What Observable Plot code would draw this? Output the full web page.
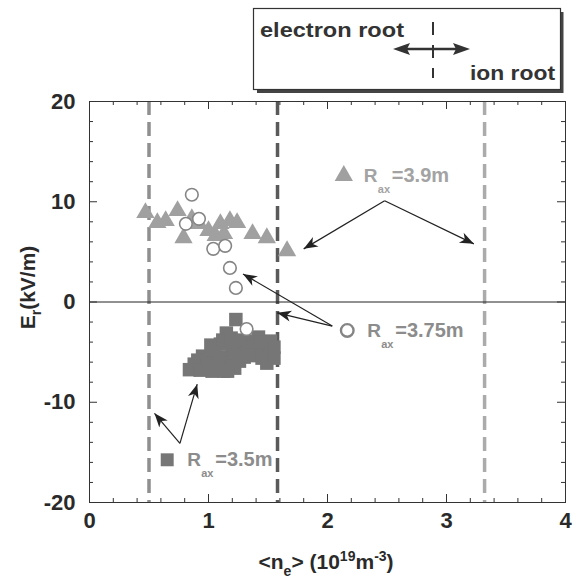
<!DOCTYPE html>
<html>
<head>
<meta charset="utf-8">
<script src="https://cdn.jsdelivr.net/npm/d3@7"></script>
<script src="https://cdn.jsdelivr.net/npm/@observablehq/plot@0.6"></script>
<style>
  body { margin: 0; background: #fff; }
  #wrap { position: relative; width: 576px; height: 580px; font-family: "Liberation Sans", Arial, sans-serif; }
  #chart { position: absolute; left: 0; top: 0; }
  #box { position: absolute; left: 0; top: 0; }
</style>
</head>
<body>
<div id="wrap">
  <div id="chart"></div>
  <svg id="box" width="576" height="100" font-family="'Liberation Sans', Arial, sans-serif" font-weight="bold">
    <path d="M257,91.5 H562 V12" fill="none" stroke="#444" stroke-width="3"/>
    <rect x="253.5" y="8.5" width="307" height="81" fill="#fff" stroke="#333" stroke-width="1.2"/>
    <text x="260" y="37" font-size="20" fill="#333" textLength="144" lengthAdjust="spacingAndGlyphs">electron root</text>
    <text x="470" y="80" font-size="20" fill="#333" textLength="85" lengthAdjust="spacingAndGlyphs">ion root</text>
    <line x1="405" y1="49" x2="458" y2="49" stroke="#333" stroke-width="2.5"/>
    <path d="M393,49 L410,43 L407,49 L410,55 Z" fill="#333"/>
    <path d="M470,49 L453,43 L456,49 L453,55 Z" fill="#333"/>
    <line x1="433" y1="22" x2="433" y2="78" stroke="#333" stroke-width="2" stroke-dasharray="13,10"/>
  </svg>
</div>
<script>
// ---- data ----
const xTicks = [0, 1, 2, 3, 4];
const yTicks = [-20, -10, 0, 10, 20];
const xMinor = [0.2, 0.4, 0.6, 0.8, 1.2, 1.4, 1.6, 1.8, 2.2, 2.4, 2.6, 2.8, 3.2, 3.4, 3.6, 3.8];
const yMinor = [-18, -16, -14, -12, -8, -6, -4, -2, 2, 4, 6, 8, 12, 14, 16, 18];

// R_ax = 3.9 m (triangles)
const triX = [0.47, 0.57, 0.64, 0.74, 0.79, 0.86, 0.92, 1.00, 1.06, 1.10, 1.13, 1.18, 1.24, 1.37, 1.49, 1.66];
const triY = [8.9, 7.9, 8.1, 9.1, 6.4, 8.3, 7.8, 7.1, 6.6, 7.8, 6.8, 8.1, 7.9, 6.8, 6.4, 5.1];

// R_ax = 3.75 m (open circles)
const circX = [0.86, 0.81, 0.92, 1.04, 1.14, 1.18, 1.23, 1.32];
const circY = [10.7, 7.8, 8.3, 5.3, 5.6, 3.4, 1.4, -2.7];

// R_ax = 3.5 m (squares)
const sqX = [1.23, 1.15, 1.42, 1.52, 1.33, 1.02, 1.10, 1.20, 1.28, 1.38, 1.47,
             0.95, 1.05, 1.14, 1.22, 1.30, 1.40, 1.52, 0.91, 0.84, 0.97, 1.08, 1.17, 1.22, 1.49, 1.55,
             0.88, 0.93, 1.00, 1.04, 1.09, 1.12, 1.16, 1.19, 1.26, 1.26, 1.34, 1.35, 1.44, 1.45, 1.55, 1.03, 1.13];
const sqY = [-1.75, -3.1, -3.5, -3.9, -3.9, -4.3, -4.2, -4.4, -4.6, -4.4, -4.8,
             -5.4, -5.2, -5.5, -5.3, -5.5, -5.3, -5.2, -5.8, -6.75, -6.6, -6.7, -6.4, -6.6, -6.1, -5.6,
             -6.2, -6.8, -6.0, -4.8, -5.9, -3.8, -6.9, -3.6, -3.8, -5.9, -4.9, -5.35, -4.0, -5.6, -4.5, -6.9, -6.9];

// dashed boundaries (electron root / ion root)
const dashX = [0.5, 1.58, 3.32];
const dashColors = ["#8f8f8f", "#5a5a5a", "#ababab"];

// in-plot legend labels
const legX = [2.137, 2.166, 0.653];
const legY = [12.6, -2.84, -15.74];
const legSym = ["triangle", "circle", "square"];
const legText = ["=3.9m", "=3.75m", "=3.5m"];
const legColors = ["#a3a3a3", "#8c8c8c", "#8c8c8c"];

// annotation arrows
const arrFromX = [2.48, 2.48, 2.04, 2.04, 0.76, 0.76];
const arrFromY = [10.1, 10.1, -2.4, -2.4, -14.1, -14.1];
const arrToX = [1.80, 3.23, 1.29, 1.577, 0.905, 0.546];
const arrToY = [5.3, 5.8, 2.8, -1.08, -8.2, -11.1];

// ---- styles ----
const triColor = "#a0a0a0";
const sqColor = "#767676";
const circColor = "#858585";
const W = 576, H = 580, mL = 89, mR = 11, mT = 101, mB = 78;
const plotW = W - mL - mR, plotH = H - mT - mB;

const tri = triX.map((x, i) => ({x, y: triY[i]}));
const circ = circX.map((x, i) => ({x, y: circY[i]}));
const sq = sqX.map((x, i) => ({x, y: sqY[i]}));
const leg = legX.map((x, i) => ({x, y: legY[i], sym: legSym[i], text: legText[i], color: legColors[i]}));
const arrows = arrFromX.map((x1, i) => ({x1, y1: arrFromY[i], x2: arrToX[i], y2: arrToY[i]}));

function headMarker(color) {
  const ns = "http://www.w3.org/2000/svg";
  const m = document.createElementNS(ns, "marker");
  m.setAttribute("viewBox", "-15 -7 17 14");
  m.setAttribute("markerUnits", "userSpaceOnUse");
  m.setAttribute("markerWidth", "17");
  m.setAttribute("markerHeight", "14");
  m.setAttribute("refX", "0");
  m.setAttribute("refY", "0");
  m.setAttribute("orient", "auto");
  const p = document.createElementNS(ns, "path");
  p.setAttribute("d", "M0,0L-14,-5.5L-10,0L-14,5.5Z");
  p.setAttribute("fill", color);
  p.setAttribute("stroke", "none");
  m.appendChild(p);
  return m;
}

const tickColor = "#333";
const chart = Plot.plot({
  width: W, height: H,
  marginLeft: mL, marginRight: mR, marginTop: mT, marginBottom: mB,
  style: {fontFamily: "'Liberation Sans', Arial, sans-serif", fontSize: "22px", fontWeight: "bold", color: "#2a2a2a", background: "transparent"},
  x: {domain: [0, 4], ticks: xTicks, tickSize: 0, tickPadding: 10, tickFormat: d => String(d), label: null},
  y: {domain: [-20, 20], ticks: yTicks, tickSize: 0, tickPadding: 14, tickFormat: d => String(d), label: null},
  marks: [
    ...dashX.map((x, i) => Plot.ruleX([x], {stroke: dashColors[i], strokeWidth: 3.5, strokeDasharray: "14,7"})),
    Plot.ruleY([0], {stroke: "#222", strokeWidth: 1}),
    // inward ticks on all four sides
    Plot.tickX(xMinor, {x: d => d, insetTop: plotH - 4, stroke: tickColor}),
    Plot.tickX(xTicks, {x: d => d, insetTop: plotH - 8, stroke: tickColor}),
    Plot.tickX(xMinor, {x: d => d, insetBottom: plotH - 4, stroke: tickColor}),
    Plot.tickX(xTicks, {x: d => d, insetBottom: plotH - 8, stroke: tickColor}),
    Plot.tickY(yMinor, {y: d => d, insetRight: plotW - 4, stroke: tickColor}),
    Plot.tickY(yTicks, {y: d => d, insetRight: plotW - 8, stroke: tickColor}),
    Plot.tickY(yMinor, {y: d => d, insetLeft: plotW - 4, stroke: tickColor}),
    Plot.tickY(yTicks, {y: d => d, insetLeft: plotW - 8, stroke: tickColor}),
    Plot.frame({stroke: "#333", strokeWidth: 1}),
    // data
    Plot.dot(tri, {x: "x", y: "y", symbol: "triangle", r: 6.8, fill: triColor, stroke: "none"}),
    Plot.dot(sq, {x: "x", y: "y", symbol: "square", r: 7.6, fill: sqColor, stroke: "none"}),
    Plot.dot(circ, {x: "x", y: "y", symbol: "circle", r: 6.3, fill: "white", stroke: circColor, strokeWidth: 1.6}),
    // legend symbols & labels
    Plot.dot(leg.filter(d => d.sym === "triangle"), {x: "x", y: "y", symbol: "triangle", r: 6.8, fill: triColor}),
    Plot.dot(leg.filter(d => d.sym === "circle"), {x: "x", y: "y", symbol: "circle", r: 6.3, fill: "white", stroke: circColor, strokeWidth: 2.4}),
    Plot.dot(leg.filter(d => d.sym === "square"), {x: "x", y: "y", symbol: "square", r: 7.3, fill: sqColor}),
    Plot.text(leg, {x: "x", y: "y", text: () => "R", dx: 20, textAnchor: "start", fontSize: 19, fontWeight: "bold", fill: d => d.color}),
    Plot.text(leg, {x: "x", y: "y", text: () => "ax", dx: 34, dy: 14, textAnchor: "start", fontSize: 11, fontWeight: "bold", fill: d => d.color}),
    Plot.text(leg, {x: "x", y: "y", text: "text", dx: 48, textAnchor: "start", fontSize: 20, fontWeight: "bold", fill: d => d.color}),
    // arrows
    Plot.link(arrows, {x1: "x1", y1: "y1", x2: "x2", y2: "y2", stroke: "#222", strokeWidth: 1.2, markerEnd: headMarker})
  ]
});

// axis titles with sub/superscripts
const svg = d3.select(chart);
const xt = svg.append("text")
  .attr("x", mL + plotW * 0.498).attr("y", 569)
  .attr("text-anchor", "middle")
  .attr("font-size", 21).attr("font-weight", "bold").attr("fill", "#2a2a2a");
xt.append("tspan").text("<n");
xt.append("tspan").attr("dy", 7).attr("font-size", 14).text("e");
xt.append("tspan").attr("dy", -7).text("> (10");
xt.append("tspan").attr("dy", -8).attr("font-size", 14).text("19");
xt.append("tspan").attr("dy", 8).text("m");
xt.append("tspan").attr("dy", -8).attr("font-size", 14).text("-3");
xt.append("tspan").attr("dy", 8).text(")");

const yt = svg.append("text")
  .attr("transform", `translate(35,${mT + plotH * 0.465}) rotate(-90)`)
  .attr("text-anchor", "middle")
  .attr("font-size", 21).attr("font-weight", "bold").attr("fill", "#2a2a2a");
yt.append("tspan").text("E");
yt.append("tspan").attr("dy", 6).attr("font-size", 14).text("r");
yt.append("tspan").attr("dy", -6).text("(kV/m)");

document.getElementById("chart").appendChild(chart);
</script>
</body>
</html>
